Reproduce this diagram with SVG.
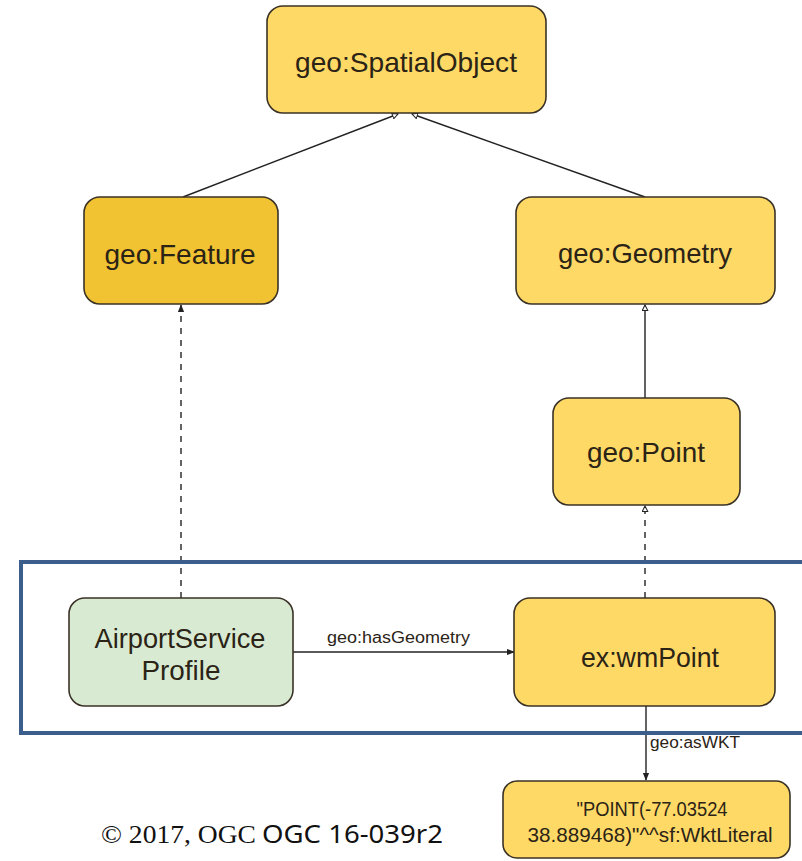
<svg xmlns="http://www.w3.org/2000/svg" width="802" height="861" viewBox="0 0 802 861">
<style>
.node{stroke:#3a3226;stroke-width:1.6}
.y{fill:#FFD966}
.o{fill:#F1C232}
.g{fill:#D9EAD3}
.lbl{font-family:"Liberation Sans",Arial,sans-serif;font-size:28px;fill:#2b2416;text-anchor:middle}
.small{font-family:"Liberation Sans",Arial,sans-serif;font-size:16px;fill:#2b2416}
.wkt{font-family:"Liberation Sans",Arial,sans-serif;font-size:20px;fill:#2b2416;text-anchor:middle}
.ln{stroke:#222;stroke-width:1.4;fill:none}
.dash{stroke-dasharray:6,6}
</style>
<defs>
<marker id="hollow" viewBox="0 0 10 10" refX="9" refY="5" markerWidth="7" markerHeight="7" orient="auto" markerUnits="userSpaceOnUse">
<path d="M1,1 L9,5 L1,9 Z" fill="#fff" stroke="#222" stroke-width="1.5"/>
</marker>
<marker id="filled" viewBox="0 0 10 10" refX="9" refY="5" markerWidth="8" markerHeight="8" orient="auto" markerUnits="userSpaceOnUse">
<path d="M0,1 L10,5 L0,9 Z" fill="#222"/>
</marker>
</defs>
<rect width="802" height="861" fill="#fff"/>
<g id="connectors">
<line class="ln" x1="183" y1="197" x2="398" y2="114" marker-end="url(#hollow)"/>
<line class="ln" x1="645" y1="197" x2="412" y2="114" marker-end="url(#hollow)"/>
<line class="ln" x1="645" y1="398" x2="645" y2="305" marker-end="url(#hollow)"/>
<line class="ln dash" x1="645" y1="598" x2="645" y2="506" marker-end="url(#hollow)"/>
<line class="ln dash" x1="181" y1="598" x2="181" y2="305" marker-end="url(#filled)"/>
<line class="ln" x1="293" y1="652" x2="514" y2="652" marker-end="url(#filled)"/>
<text class="small" x="327" y="643" textLength="143" lengthAdjust="spacingAndGlyphs">geo:hasGeometry</text>
<line class="ln" x1="646" y1="706" x2="646" y2="780" marker-end="url(#filled)"/>
<text class="small" x="650" y="748" textLength="90" lengthAdjust="spacingAndGlyphs">geo:asWKT</text>
</g>
<g id="spatialobject">
<rect class="node y" x="267" y="6" width="279" height="107" rx="16"/>
<text class="lbl" x="406" y="72" textLength="222" lengthAdjust="spacingAndGlyphs">geo:SpatialObject</text>
</g>
<g id="feature">
<rect class="node o" x="84" y="197" width="194" height="107" rx="16"/>
<text class="lbl" x="180" y="264" textLength="151" lengthAdjust="spacingAndGlyphs">geo:Feature</text>
</g>
<g id="geometry">
<rect class="node y" x="516" y="197" width="259" height="107" rx="16"/>
<text class="lbl" x="645" y="263" textLength="174" lengthAdjust="spacingAndGlyphs">geo:Geometry</text>
</g>
<g id="point">
<rect class="node y" x="553" y="398" width="187" height="107" rx="16"/>
<text class="lbl" x="646" y="462" textLength="118" lengthAdjust="spacingAndGlyphs">geo:Point</text>
</g>
<g id="airport">
<rect class="node g" x="69" y="598" width="224" height="108" rx="16"/>
<text class="lbl" x="180" y="648" textLength="171" lengthAdjust="spacingAndGlyphs">AirportService</text>
<text class="lbl" x="181" y="680" textLength="79" lengthAdjust="spacingAndGlyphs">Profile</text>
</g>
<g id="wmpoint">
<rect class="node y" x="514" y="598" width="261" height="108" rx="16"/>
<text class="lbl" x="650" y="667" textLength="138" lengthAdjust="spacingAndGlyphs">ex:wmPoint</text>
</g>
<g id="wkt">
<rect class="node y" x="503" y="781" width="287" height="77" rx="14"/>
<text class="wkt" x="652" y="816" textLength="151" lengthAdjust="spacingAndGlyphs">"POINT(-77.03524</text>
<text class="wkt" x="650" y="842" textLength="245" lengthAdjust="spacingAndGlyphs">38.889468)"^^sf:WktLiteral</text>
</g>
<g id="frame">
<rect x="21" y="562" width="790" height="171" fill="none" stroke="#3B5E8C" stroke-width="4"/>
</g>
<g id="caption">
<text x="101" y="843" font-size="26" fill="#111" font-family="'Liberation Serif','Times New Roman',serif" textLength="155" lengthAdjust="spacingAndGlyphs">© 2017, OGC</text>
<text x="262" y="843" font-size="26" fill="#111" font-family="'Noto Sans','Liberation Sans',sans-serif" textLength="181" lengthAdjust="spacingAndGlyphs">OGC 16-039r2</text>
</g>
</svg>
